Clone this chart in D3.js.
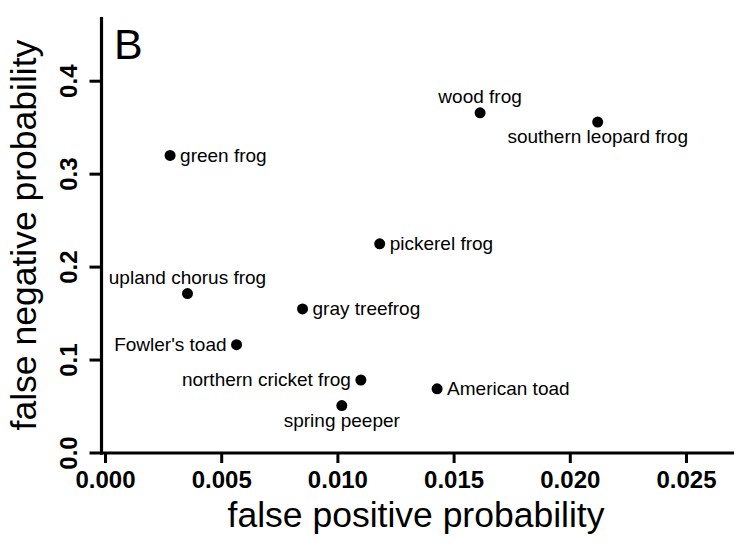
<!DOCTYPE html>
<html><head><meta charset="utf-8">
<script src="https://cdn.jsdelivr.net/npm/d3@7"></script>
<style>body{margin:0;background:#fff;} svg{display:block;font-family:"Liberation Sans",Arial,sans-serif;}</style>
</head><body>
<svg id="c" width="751" height="546"></svg>
<script>
const species = ["green frog","upland chorus frog","gray treefrog","Fowler's toad","wood frog","southern leopard frog","pickerel frog","northern cricket frog","spring peeper","American toad"];
const falsePositive = [0.00280,0.00355,0.00850,0.00566,0.01614,0.02120,0.01182,0.01101,0.01019,0.01429];
const falseNegative = [0.3196,0.1710,0.1545,0.1160,0.3655,0.3555,0.2245,0.0780,0.0505,0.0685];
const labelPos = ["right","above","right","left","above","below","right","left","below","right"];
const xTicks = [0,0.005,0.010,0.015,0.020,0.025];
const yTicks = [0,0.1,0.2,0.3,0.4];

const svg = d3.select("#c");
const x = d3.scaleLinear().domain([0,0.025]).range([105,686]);
const y = d3.scaleLinear().domain([0,0.4]).range([452.5,80.7]);

// frame lines (bty="l")
svg.append("line").attr("x1",101.5).attr("x2",101.5).attr("y1",17).attr("y2",454.5).attr("stroke","#000").attr("stroke-width",3.2);
svg.append("line").attr("x1",100).attr("x2",734).attr("y1",453).attr("y2",453).attr("stroke","#000").attr("stroke-width",3.2);

const xa = svg.append("g").attr("transform","translate(0,453)")
  .call(d3.axisBottom(x).tickValues(xTicks).tickFormat(d3.format(".3f")).tickSize(10).tickSizeOuter(0));
xa.select(".domain").remove();
xa.selectAll(".tick line").attr("stroke","#000").attr("stroke-width",3);
xa.selectAll(".tick text").attr("font-size",24).attr("font-weight","bold").attr("fill","#000")
  .attr("y",35).attr("dy",0).attr("font-family","Liberation Sans, Arial, sans-serif");

const ya = svg.append("g").attr("transform","translate(101.5,0)")
  .call(d3.axisLeft(y).tickValues(yTicks).tickFormat(d3.format(".1f")).tickSize(12).tickSizeOuter(0));
ya.select(".domain").remove();
ya.selectAll(".tick line").attr("stroke","#000").attr("stroke-width",3);
ya.selectAll(".tick text").attr("font-size",24).attr("font-weight","bold").attr("fill","#000")
  .attr("x",0).attr("dy",0).attr("text-anchor","middle")
  .attr("transform","translate(-24.5,0) rotate(-90)")
  .attr("font-family","Liberation Sans, Arial, sans-serif");

// axis titles
svg.append("text").attr("x",416).attr("y",527).attr("text-anchor","middle").attr("font-size",35.5).text("false positive probability");
svg.append("text").attr("transform","translate(36,235) rotate(-90)").attr("text-anchor","middle").attr("font-size",35.5).text("false negative probability");

// panel letter
svg.append("text").attr("x",114).attr("y",59).attr("font-size",43).text("B");

// points
const data = species.map((s,i)=>({s, fp:falsePositive[i], fn:falseNegative[i], pos:labelPos[i]}));
svg.append("g").selectAll("circle").data(data).join("circle")
  .attr("cx",d=>x(d.fp)).attr("cy",d=>y(d.fn)).attr("r",5.5).attr("fill","#000");

svg.append("g").selectAll("text").data(data).join("text")
  .attr("font-size",19)
  .attr("x",d=>{const cx=x(d.fp); return d.pos==="right"?cx+10:d.pos==="left"?cx-10:cx;})
  .attr("y",d=>{const cy=y(d.fn); return d.pos==="above"?cy-10:d.pos==="below"?cy+21:cy+6.5;})
  .attr("text-anchor",d=>d.pos==="right"?"start":d.pos==="left"?"end":"middle")
  .text(d=>d.s);
</script>
</body></html>
